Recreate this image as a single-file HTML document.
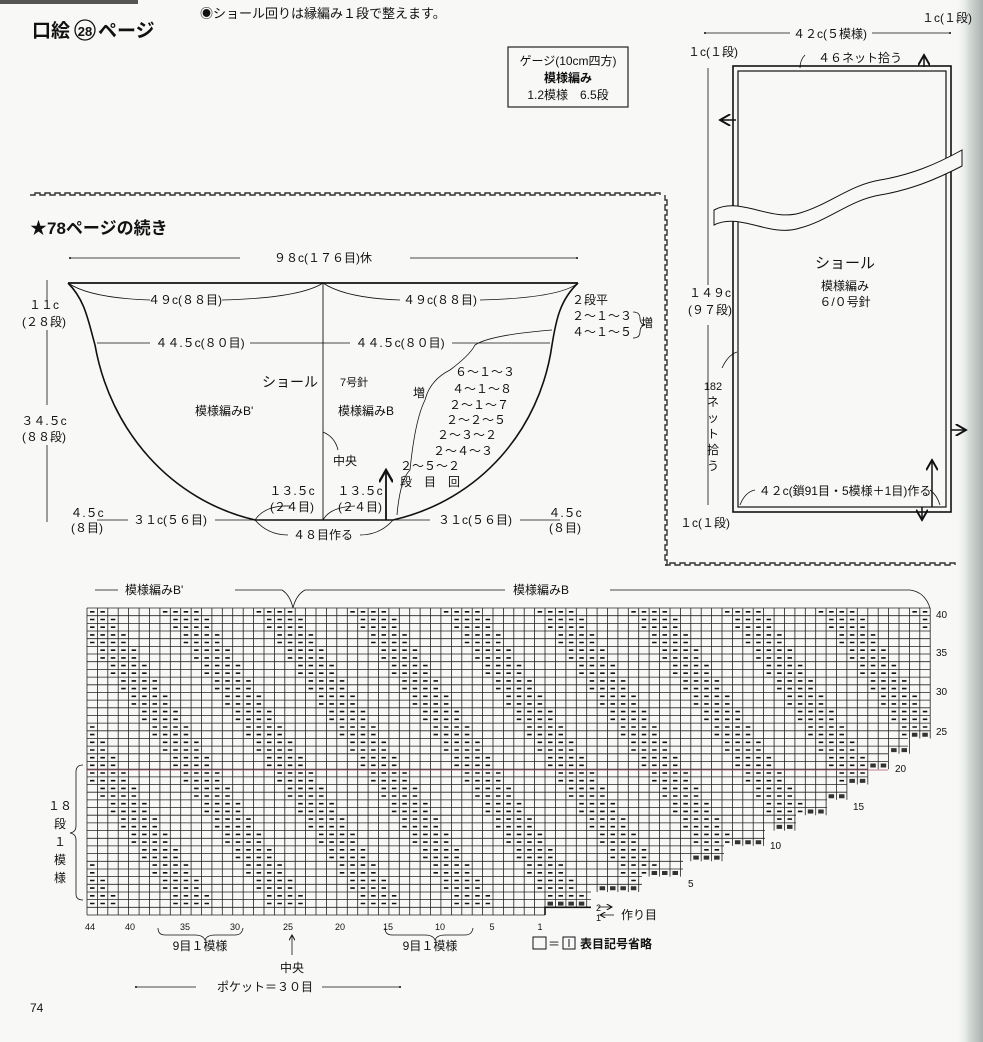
<!DOCTYPE html>
<html><head><meta charset="utf-8">
<style>
html,body{margin:0;padding:0;background:#f8f9f7;}
svg{display:block;}
text{font-family:"Liberation Sans","Noto Sans CJK JP",sans-serif;fill:#111;}
</style></head>
<body>
<svg id="s" width="983" height="1042" viewBox="0 0 983 1042" xmlns="http://www.w3.org/2000/svg">
<defs>
<linearGradient id="gut" x1="0" x2="1"><stop offset="0" stop-color="#f8f9f7" stop-opacity="0"/><stop offset="0.5" stop-color="#d5dbd8"/><stop offset="1" stop-color="#a9b1ae"/></linearGradient>
<marker id="ah" markerWidth="8" markerHeight="8" refX="7" refY="4" orient="auto"><path d="M0,0 L7,4 L0,8" fill="none" stroke="#111" stroke-width="1.3"/></marker>
<marker id="dot" markerWidth="4" markerHeight="4" refX="2" refY="2"><circle cx="2" cy="2" r="1.3" fill="#111"/></marker>
</defs>
<rect x="955" y="0" width="28" height="1042" fill="url(#gut)"/>
<rect x="0" y="0" width="138" height="4" fill="#555"/>

<text x="32" y="37" font-size="19" font-weight="bold">口絵</text>
<circle cx="85" cy="30" r="10" fill="none" stroke="#111" stroke-width="1.3"/>
<text x="85" y="36" font-size="13" text-anchor="middle" font-weight="bold">28</text>
<text x="98" y="37" font-size="19" font-weight="bold">ページ</text>
<text x="200" y="18" font-size="13">◉ショール回りは縁編み１段で整えます。</text>
<rect x="508" y="47" width="120" height="60" fill="none" stroke="#222" stroke-width="1.2"/>
<text x="568" y="65" font-size="12" text-anchor="middle">ゲージ(10cm四方)</text>
<text x="568" y="82" font-size="12" text-anchor="middle" font-weight="bold">模様編み</text>
<text x="568" y="99" font-size="12" text-anchor="middle">1.2模様　6.5段</text>

<g id="zz" fill="none" stroke="#333" stroke-width="1.4"></g>

<text x="30" y="234" font-size="17" font-weight="bold">★78ページの続き</text>

<g fill="none" stroke="#111">
<line x1="70" y1="258" x2="240" y2="258" stroke-width="0.8" marker-start="url(#dot)"/>
<line x1="410" y1="258" x2="577" y2="258" stroke-width="0.8" marker-end="url(#dot)"/>
<line x1="68" y1="283" x2="578" y2="283" stroke-width="1.8"/>
<path d="M68,283 C85,300 88,320 95,345 C110,430 170,500 255,520 L393,520 C480,500 540,430 552,345 C556,320 560,300 578,283" stroke-width="1.6"/>
<line x1="323" y1="283" x2="323" y2="520" stroke-width="0.9"/>
<path d="M68,283 Q90,298 150,300 M222,300 Q300,298 323,283 Q345,298 400,300 M480,300 Q560,298 578,283" stroke-width="0.8"/>
<path d="M97,343 L150,343 M250,343 L350,343 M452,343 L550,343" stroke-width="0.8"/>
<path d="M47,280 L47,300 M47,330 L47,405 M47,445 L47,522" stroke-width="0.8"/>
<path d="M97,520 L128,520 M215,520 L255,520 M393,520 L430,520 M520,520 L560,520" stroke-width="0.8"/>
<path d="M255,520 Q265,505 290,506 M323,520 Q330,507 355,506 M255,520 Q268,535 288,535 M393,520 Q380,535 360,535 M397,515 Q400,480 410,470" stroke-width="0.8"/>
<line x1="386" y1="520" x2="386" y2="470" stroke-width="1.8" marker-end="url(#ah)"/>
<path d="M323,432 Q335,437 338,450" stroke-width="0.8" />
<path d="M410,470 Q415,420 425,400 Q430,380 450,370 Q470,355 475,345 Q490,335 552,330" stroke-width="0.8"/>
<path d="M633,312 Q640,312 640,318 Q640,324 645,325 Q640,326 640,332 Q640,338 633,338" stroke-width="0.8"/>
</g>
<g font-size="12">
<text x="323" y="262" text-anchor="middle">９８c(１７６目)休</text>
<text x="185" y="304" text-anchor="middle">４９c(８８目)</text>
<text x="440" y="304" text-anchor="middle">４９c(８８目)</text>
<text x="200" y="347" text-anchor="middle">４４.５c(８０目)</text>
<text x="400" y="347" text-anchor="middle">４４.５c(８０目)</text>
<text x="44" y="309" text-anchor="middle">１１c</text>
<text x="44" y="326" text-anchor="middle">(２８段)</text>
<text x="44" y="425" text-anchor="middle">３４.５c</text>
<text x="44" y="441" text-anchor="middle">(８８段)</text>
<text x="572" y="304">２段平</text>
<text x="572" y="320">２～１～３</text>
<text x="572" y="336">４～１～５</text>
<text x="641" y="327">増</text>
<text x="262" y="387" font-size="14">ショール</text>
<text x="340" y="386" font-size="11">7号針</text>
<text x="195" y="415">模様編みB'</text>
<text x="338" y="415">模様編みB</text>
<text x="333" y="465">中央</text>
<text x="455" y="376">６～１～３</text>
<text x="452" y="393">４～１～８</text>
<text x="449" y="409">２～１～７</text>
<text x="446" y="424">２～２～５</text>
<text x="437" y="439">２～３～２</text>
<text x="433" y="455">２～４～３</text>
<text x="400" y="470">２～５～２</text>
<text x="400" y="486">段　目　回</text>
<text x="413" y="397">増</text>
<text x="292" y="495" text-anchor="middle">１３.５c</text>
<text x="292" y="511" text-anchor="middle">(２４目)</text>
<text x="360" y="495" text-anchor="middle">１３.５c</text>
<text x="360" y="511" text-anchor="middle">(２４目)</text>
<text x="323" y="539" text-anchor="middle">４８目作る</text>
<text x="87" y="517" text-anchor="middle">４.５c</text>
<text x="87" y="532" text-anchor="middle">(８目)</text>
<text x="170" y="524" text-anchor="middle">３１c(５６目)</text>
<text x="475" y="524" text-anchor="middle">３１c(５６目)</text>
<text x="565" y="517" text-anchor="middle">４.５c</text>
<text x="565" y="532" text-anchor="middle">(８目)</text>
</g>

<g fill="none" stroke="#111">
<rect x="733" y="66" width="218" height="446" stroke-width="1.6"/>
<rect x="738" y="71" width="208" height="436" stroke-width="1.2"/>
<path d="M714,210 C740,196 770,222 800,213 C830,204 850,185 880,180 C910,175 935,165 962,150 L962,166 C935,180 910,190 880,195 C850,200 830,220 800,228 C770,238 740,212 714,225 Z" fill="#f8f9f7" stroke-width="1"/>
<line x1="705" y1="33" x2="790" y2="33" stroke-width="0.8" marker-start="url(#dot)"/>
<line x1="872" y1="33" x2="950" y2="33" stroke-width="0.8" marker-end="url(#dot)"/>
<line x1="708" y1="68" x2="708" y2="285" stroke-width="0.8"/>
<line x1="708" y1="325" x2="708" y2="505" stroke-width="0.8"/>
<line x1="924" y1="67" x2="924" y2="55" stroke-width="1.5" marker-end="url(#ah)"/>
<line x1="736" y1="120" x2="720" y2="120" stroke-width="1.5" marker-end="url(#ah)"/>
<line x1="951" y1="430" x2="966" y2="430" stroke-width="1.5" marker-end="url(#ah)"/>
<line x1="932" y1="507" x2="932" y2="460" stroke-width="1.5" marker-end="url(#ah)"/>
<line x1="922" y1="507" x2="922" y2="520" stroke-width="1.5" marker-end="url(#ah)"/>
<path d="M805,55 Q800,60 800,68 M722,368 Q728,355 737,352 M740,505 Q745,492 755,490 M940,505 Q937,495 930,490" stroke-width="0.8"/>
</g>
<g font-size="12">
<text x="830" y="38" text-anchor="middle">４２c(５模様)</text>
<text x="922" y="22">１c(１段)</text>
<text x="688" y="56">１c(１段)</text>
<text x="818" y="62">４６ネット拾う</text>
<text x="710" y="297" text-anchor="middle">１４９c</text>
<text x="710" y="314" text-anchor="middle">(９７段)</text>
<text x="845" y="268" text-anchor="middle" font-size="15">ショール</text>
<text x="845" y="290" text-anchor="middle">模様編み</text>
<text x="845" y="306" text-anchor="middle">６/０号針</text>
<text x="713" y="390" text-anchor="middle" font-size="11">182</text>
<text x="713" y="406" text-anchor="middle">ネ</text>
<text x="713" y="422" text-anchor="middle">ッ</text>
<text x="713" y="438" text-anchor="middle">ト</text>
<text x="713" y="454" text-anchor="middle">拾</text>
<text x="713" y="470" text-anchor="middle">う</text>
<text x="845" y="495" text-anchor="middle">４２c(鎖91目・5模様＋1目)作る</text>
<text x="680" y="527">１c(１段)</text>
</g>

<g fill="none" stroke="#111" stroke-width="0.8">
<path d="M95,590 L118,590 M235,590 L282,590 Q290,595 293,608 Q296,595 305,590 L505,590 M610,590 L910,590 Q925,592 930,608"/>
<path d="M83,765 Q76,765 76,772 L76,826 Q76,832 70,833 Q76,834 76,840 L76,894 Q76,900 83,900"/>
<path d="M158,928 Q158,935 165,935 L195,935 Q203,935 205,940 Q207,935 215,935 L235,935 Q242,935 243,928"/>
<path d="M385,928 Q385,935 392,935 L425,935 Q433,935 435,940 Q437,935 445,935 L465,935 Q472,935 473,928"/>
<line x1="292" y1="955" x2="292" y2="935" marker-end="url(#ah)"/>
<line x1="136" y1="987" x2="196" y2="987" marker-start="url(#dot)"/>
<line x1="322" y1="987" x2="400" y2="987" marker-end="url(#dot)"/>
<line x1="598" y1="907" x2="612" y2="907" marker-end="url(#ah)"/>
<line x1="614" y1="915" x2="600" y2="915" marker-end="url(#ah)"/>
</g>
<g id="grid"></g>
<g font-size="12">
<text x="125" y="594">模様編みB'</text>
<text x="513" y="594">模様編みB</text>
<text x="60" y="810" text-anchor="middle">１８</text>
<text x="60" y="828" text-anchor="middle">段</text>
<text x="60" y="846" text-anchor="middle">１</text>
<text x="60" y="864" text-anchor="middle">模</text>
<text x="60" y="882" text-anchor="middle">様</text>
<text x="200" y="950" text-anchor="middle">9目１模様</text>
<text x="430" y="950" text-anchor="middle">9目１模様</text>
<text x="292" y="972" text-anchor="middle">中央</text>
<text x="265" y="991" text-anchor="middle">ポケット＝３０目</text>
<text x="30" y="1012" font-size="12">74</text>
<text x="621" y="919">作り目</text>
<rect x="533" y="937" width="13" height="12" fill="none" stroke="#111"/>
<text x="548" y="948">＝</text>
<rect x="563" y="937" width="12" height="12" fill="none" stroke="#111"/>
<line x1="569" y1="939" x2="569" y2="947" stroke="#111"/>
<text x="580" y="948" font-weight="bold">表目記号省略</text>
</g>
</svg>
<script>
(function(){
var NS="http://www.w3.org/2000/svg";
function el(p,t,a){var e=document.createElementNS(NS,t);for(var k in a)e.setAttribute(k,a[k]);p.appendChild(e);return e;}
var zz=document.getElementById('zz');
function zig(x1,y1,x2,y2){var d="M"+x1+","+y1;var horiz=y1==y2;var L=horiz?x2-x1:y2-y1;var n=Math.floor(L/10);
for(var i=0;i<n;i++){if(horiz){var x=x1+i*10;d+=" L"+(x+5)+","+y1+" L"+(x+5)+","+(y1-2)+" L"+(x+10)+","+(y1-2)+" L"+(x+10)+","+y1;}else{var y=y1+i*10;d+=" L"+x1+","+(y+5)+" L"+(x1+2)+","+(y+5)+" L"+(x1+2)+","+(y+10)+" L"+x1+","+(y+10);}}
el(zz,'path',{d:d});}
zig(30,195,665,195);zig(665,195,665,565);zig(665,565,960,565);
var g=document.getElementById('grid');
var x0=87,cw=10.41,yb=915,rh=7.675;
var ends=[545,591,591,642,642,683,683,724,724,765,765,796,796,827,827,847,847,868,868,888,888,908,908];
var d="",dd="",cr="";
for(var r=1;r<=40;r++){
 var xe=r<=23?ends[r-1]:930;
 var y1=yb-r*rh,y2=y1+rh;
 var ncol=Math.round((xe-x0)/cw);
 d+="M"+x0+","+y1.toFixed(1)+"H"+xe;
 for(var c=0;c<=ncol;c++){var x=(x0+c*cw).toFixed(1);d+="M"+x+","+y1.toFixed(1)+"V"+y2.toFixed(1);}
 var prev=r==1?545:(r<=24?ends[r-2]:930);
 for(var c=0;c<ncol;c++){
  var cx=x0+c*cw;
  if(r>1&&r<=24&&cx>=prev-1&&r%2==0){cr+="M"+(cx+2.5).toFixed(1)+","+(y1+2)+"h5.5v4h-5.5z";continue;}
  if((c+Math.floor(r/2))%9<4 && r!=1) dd+="M"+(cx+3).toFixed(1)+","+(y1+rh/2).toFixed(1)+"h4.5";
 }
}
d+="M"+x0+","+yb+"H545";
el(g,'path',{d:d,stroke:'#222','stroke-width':'0.8',fill:'none'});
el(g,'path',{d:dd,stroke:'#111','stroke-width':'1.6',fill:'none'});
el(g,'path',{d:cr,fill:'#333',stroke:'none'});
el(g,'path',{d:"M545,915V"+(yb-rh)+"H591",stroke:'#111','stroke-width':'1.6',fill:'none'});
el(g,'line',{x1:87,y1:770,x2:888,y2:770,stroke:'#b05070','stroke-width':'0.8'});
var lab=[[40,614],[35,652],[30,691],[25,731],[20,768],[15,806],[10,845],[5,883],[2,907],[1,917]];
var lx=[936,936,936,936,895,853,770,688,596,596];
lab.forEach(function(a,i){var t=el(g,'text',{x:lx[i],y:a[1]+4,'font-size':a[0]<3?'9':'10'});t.textContent=a[0];});
var cols=[[44,90],[40,130],[35,185],[30,235],[25,288],[20,340],[15,388],[10,440],[5,492],[1,540]];
cols.forEach(function(a){var t=el(g,'text',{x:a[1],y:930,'font-size':'9','text-anchor':'middle'});t.textContent=a[0];});
})();
</script>
</body></html>
